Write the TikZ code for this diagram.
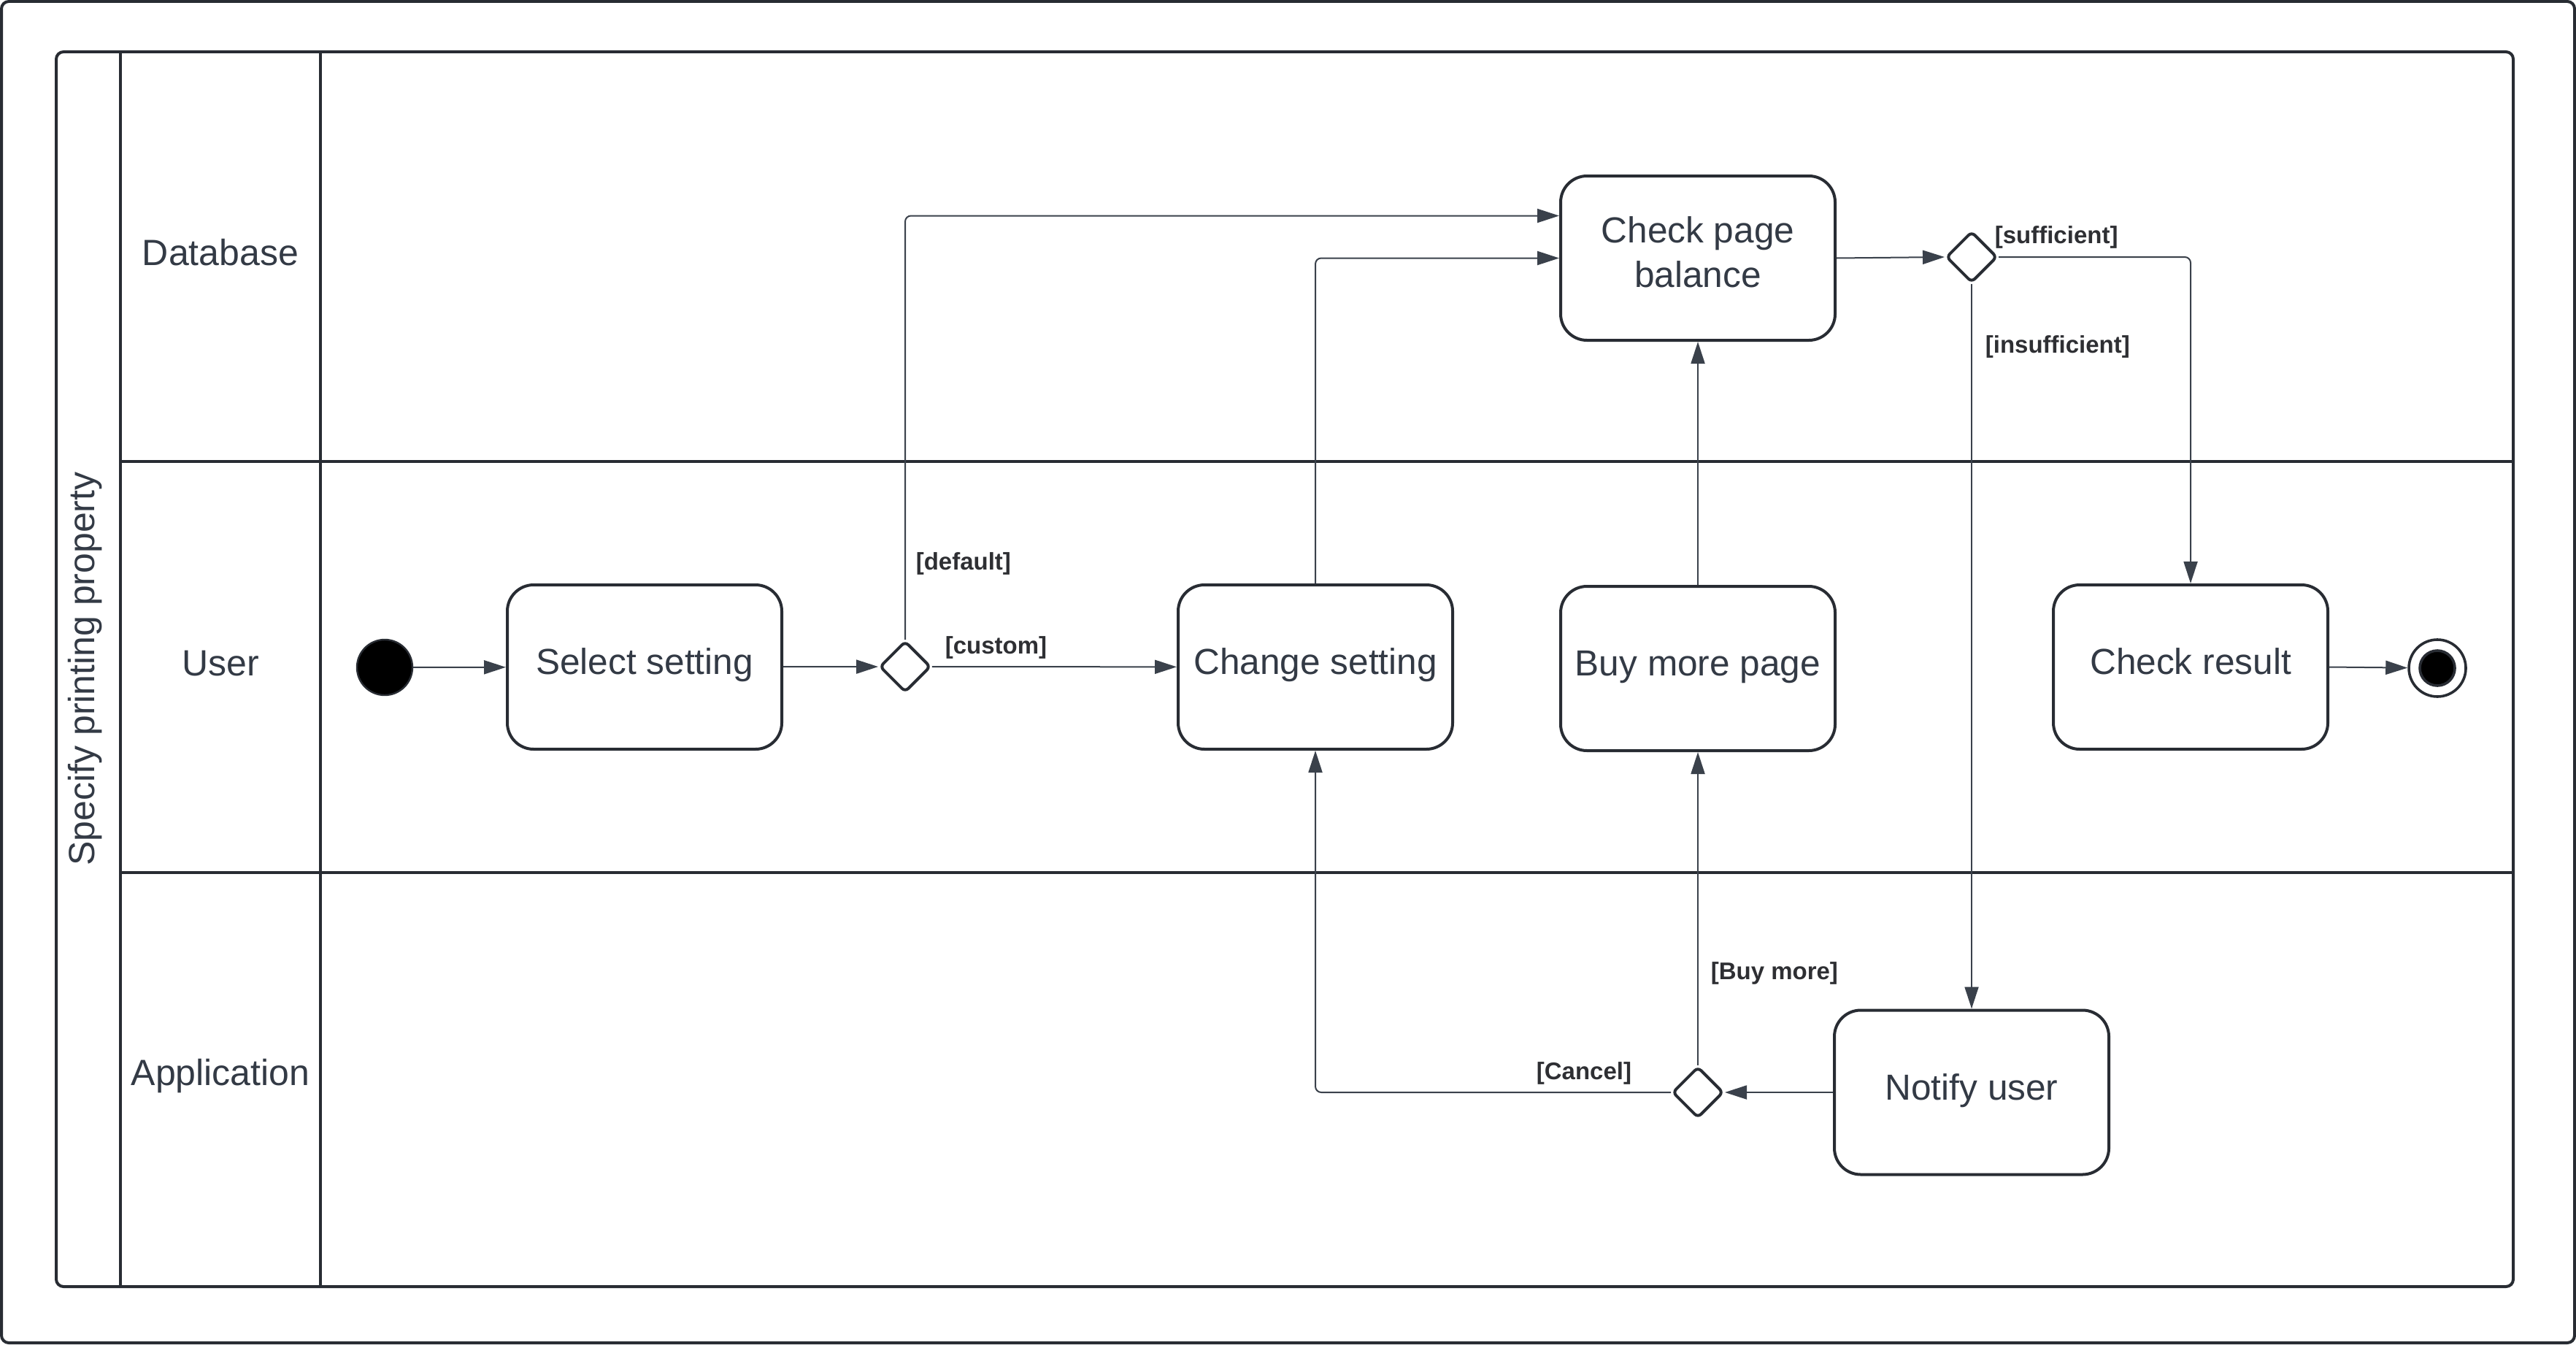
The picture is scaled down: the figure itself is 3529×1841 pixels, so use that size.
\documentclass[tikz,border=0pt]{standalone}
\usepackage{fontspec}
\setmainfont{Liberation Sans}
\usetikzlibrary{arrows.meta,shapes.geometric,calc}
\definecolor{lc}{HTML}{282C33}
\definecolor{ac}{HTML}{3A414B}
\definecolor{tc}{HTML}{333A45}
\definecolor{bc}{HTML}{2E2F33}
\begin{document}
\begin{tikzpicture}[x=0.25pt,y=-0.25pt,
  act/.style={draw=lc,line width=1pt,rounded corners=9pt,minimum width=94pt,minimum height=56.25pt,text=tc,font=\fontsize{12.4pt}{15.2pt}\selectfont,fill=white,inner sep=2pt,text height=9pt,text depth=4pt},
  acttext/.style={align=center,text=tc,font=\fontsize{12.4pt}{15.2pt}\selectfont,inner sep=0pt},
  dec/.style={diamond,draw=lc,line width=1pt,rounded corners=1.5pt,minimum width=17.5pt,minimum height=17.5pt,inner sep=0pt,fill=white},
  flow/.style={draw=ac,line width=0.5pt,-{Triangle[length=7.5pt,width=4.75pt]},rounded corners=2pt},
  glabel/.style={anchor=west,inner sep=0pt,text=bc,font=\bfseries\fontsize{8.25pt}{10pt}\selectfont},
  lanetext/.style={text=tc,font=\fontsize{12.5pt}{14pt}\selectfont},
  frameline/.style={draw=lc,line width=1pt}]
\useasboundingbox (0,0) rectangle (3529,1841);
% outer frame
\draw[frameline,rounded corners=2.5pt] (2,2) rectangle (3527,1839);
% pool
\draw[frameline,rounded corners=2.5pt] (77,71) rectangle (3443,1762);
\draw[frameline] (165,71) -- (165,1762);
\draw[frameline] (439,71) -- (439,1762);
\draw[frameline] (165,632) -- (3443,632);
\draw[frameline] (165,1195) -- (3443,1195);
\node[lanetext,rotate=90] (title) at (117,916) {Specify printing property};
\node[lanetext] (ldb) at (302,346) {Database};
\node[lanetext] (lus) at (302,909) {User};
\node[lanetext] (lap) at (302,1474) {Application};
% nodes
\node[circle,fill=black,draw=lc,line width=0.6pt,minimum size=19pt,inner sep=0pt] (init) at (527,914) {};
\node[act] (ss) at (883,913.5) {Select setting};
\node[dec] (d1) at (1240,913) {};
\node[act] (cs) at (1802,913.5) {Change setting};
\node[act] (cpb) at (2326,353.5) {};
\node[acttext] (cpbt) at ($(cpb.center)+(0,-8)$) {Check page\\balance};
\node[act] (bmp) at (2326,915.5) {Buy more page};
\node[dec] (d2) at (2701,352) {};
\node[act] (cr) at (3001,913.5) {Check result};
\node[circle,draw=lc,line width=0.9pt,fill=white,minimum size=19.5pt,inner sep=0pt] (fin) at (3339,915) {};
\node[circle,fill=black,draw=lc,line width=0.9pt,minimum size=12pt,inner sep=0pt] (finin) at (fin) {};
\node[act] (nu) at (2701,1496) {Notify user};
\node[dec] (d3) at (2326,1496) {};
% flows
\draw[flow] (init) -- (ss);
\draw[flow] (ss) -- (d1);
\draw[flow] (d1) -- (cs);
\draw[flow] (d1.north) |- ($(cpb.west)+(0,-58)$);
\draw[flow] (cs.north) |- (cpb.west);
\draw[flow] (bmp.north) -- (cpb.south);
\draw[flow] (cpb.east) -- (d2.west);
\draw[flow] (d2.east) -| (cr.north);
\draw[flow] (d2.south) -- (nu.north);
\draw[flow] (cr.east) -- (fin);
\draw[flow] (nu.west) -- (d3.east);
\draw[flow] (d3.north) -- (bmp.south);
\draw[flow] (d3.west) -| (cs.south);
% guards
\node[glabel] (gdef) at (1254,772) {[default]};
\node[glabel] (gcus) at (1294,887) {[custom]};
\node[glabel] (gsuf) at (2732,325) {[sufficient]};
\node[glabel] (gins) at (2719,475) {[insufficient]};
\node[glabel] (gbuy) at (2343,1333) {[Buy more]};
\node[glabel] (gcan) at (2104,1470) {[Cancel]};
\end{tikzpicture}
\end{document}
